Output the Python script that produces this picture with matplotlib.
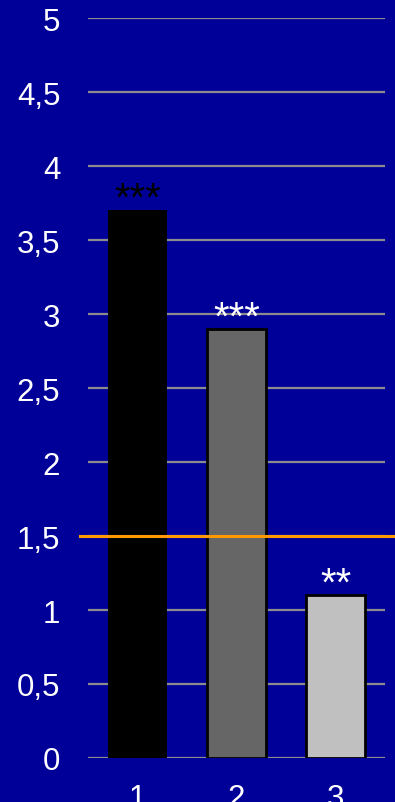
import matplotlib.pyplot as plt
from matplotlib.ticker import FuncFormatter

# dados
categorias = ['1', '2', '3']
valores = [3.7, 2.9, 1.1]
cores = ['#000000', '#666666', '#c0c0c0']
bordas = [0, 2, 2]
signif = ['***', '***', '**']
cor_signif = ['black', 'white', 'white']
limiar = 1.5

plt.rcParams['font.family'] = ['Liberation Sans', 'DejaVu Sans']

fig = plt.figure(figsize=(3.95, 8.03), dpi=100)
fig.patch.set_facecolor('#000099')
ax = fig.add_axes([0.2228, 0.0548, 0.752, 0.9215])
ax.set_facecolor('#000099')

x = range(len(categorias))
ax.set_axisbelow(True)
ax.grid(axis='y', color='#8c8c8c', linewidth=1.6)
ax.bar(x, valores, width=0.6, color=cores, edgecolor='black', linewidth=bordas, zorder=3)

for i, (v, s, c) in enumerate(zip(valores, signif, cor_signif)):
    ax.text(i, v - 0.05, s, ha='center', va='bottom', fontsize=29, color=c, zorder=4)

# linha de referência
ax.axhline(limiar, xmin=-0.027, xmax=1.04, color='#ff9900', linewidth=2.2, clip_on=False, zorder=5)

ax.set_xlim(-0.5, 2.5)
ax.set_ylim(0, 5)
ax.set_yticks([i * 0.5 for i in range(11)])
ax.yaxis.set_major_formatter(FuncFormatter(lambda v, p: f'{v:g}'.replace('.', ',')))
ax.set_xticks(list(x))
ax.set_xticklabels(categorias)
ax.tick_params(colors='white', labelsize=22.5, length=0)
ax.tick_params(axis='y', pad=20)
ax.tick_params(axis='x', pad=18)
for sp in ax.spines.values():
    sp.set_visible(False)

fig.savefig('out.png', dpi=100, facecolor=fig.get_facecolor())
